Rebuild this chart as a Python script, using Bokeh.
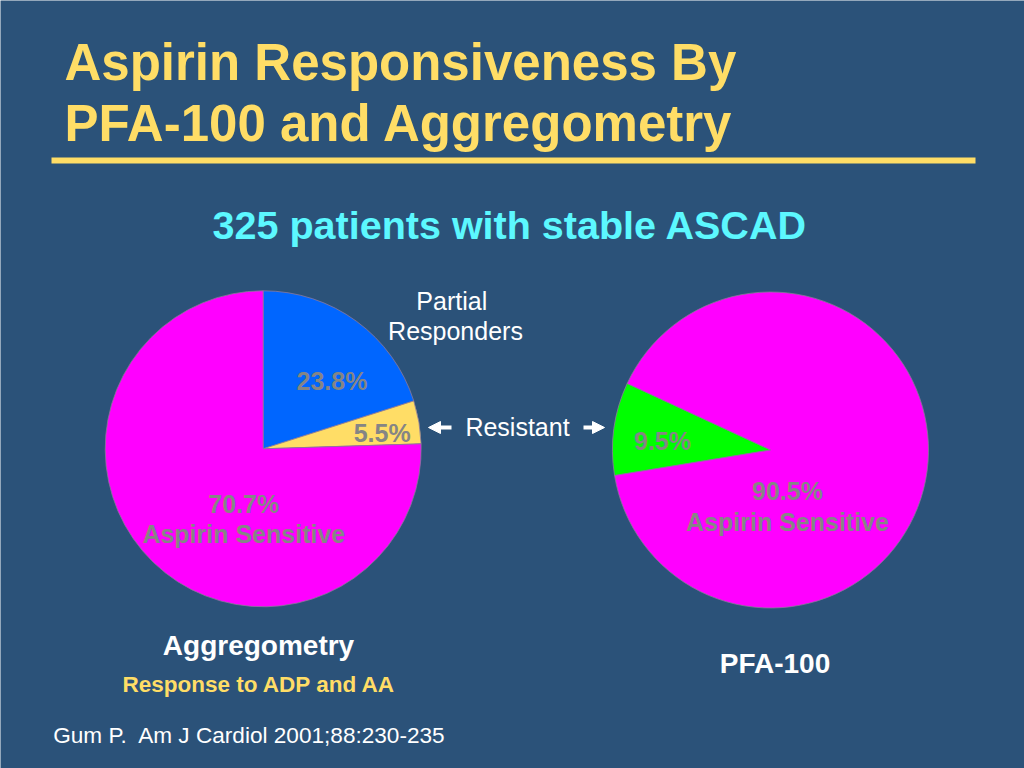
from math import radians
from bokeh.plotting import figure
from bokeh.models import Arrow, NormalHead
from bokeh.core.properties import value
from bokeh.embed import file_html
from bokeh.resources import INLINE

# ---------------- data ----------------
title_lines = ["Aspirin Responsiveness By", "PFA-100 and Aggregometry"]
subtitle = "325 patients with stable ASCAD"

# Aggregometry pie (slice shares as drawn, clockwise from 12 o'clock)
agg_categories = ["Partial Responders", "Resistant", "Aspirin Sensitive"]
agg_share = [20.1, 4.4, 75.5]
agg_labels = ["23.8%", "5.5%", "70.7%\nAspirin Sensitive"]
agg_colors = ["#0066FF", "#FFDD66", "#FF00FF"]

# PFA-100 pie
pfa_categories = ["Resistant", "Aspirin Sensitive"]
pfa_share = [9.5, 90.5]
pfa_labels = ["9.5%", "90.5%\nAspirin Sensitive"]
pfa_colors = ["#00FF00", "#FF00FF"]

annot_partial = ["Partial", "Responders"]
annot_resistant = "Resistant"
agg_name = "Aggregometry"
agg_sub = "Response to ADP and AA"
pfa_name = "PFA-100"
citation = "Gum P.\u00a0 Am J Cardiol 2001;88:230-235"

BG = "#2B5279"
YELLOW = "#FFDD66"
CYAN = "#5CF8FF"
GRAY = "#858585"
FONT = value("Liberation Sans")

W, H = 1024, 768
# page-pixel coordinates: x = page x, y = -page y
p = figure(width=W, height=H, x_range=(0, W), y_range=(-H, 0),
           output_backend="svg", toolbar_location=None,
           x_axis_type=None, y_axis_type=None, min_border=0)
p.background_fill_color = BG
p.border_fill_color = BG
p.outline_line_color = None
p.xgrid.visible = False
p.ygrid.visible = False


def txt(x, y, s, size, color, style="normal", align="center"):
    # y is the desired baseline in page pixels; compensate renderer offset
    px = float(size.replace("px", ""))
    yy = y - 0.37 * px
    p.text(x=[x], y=[-yy], text=[s], text_font=FONT, text_font_size=size,
           text_font_style=style, text_color=color, text_align=align,
           text_baseline="alphabetic")


# title
txt(64, 81, title_lines[0], "51px", YELLOW, "bold", "left")
txt(64, 141.7, title_lines[1], "51px", YELLOW, "bold", "left")
p.line(x=[51, 975], y=[-160, -160], line_color=YELLOW, line_width=6)

# subtitle
txt(509.5, 239, subtitle, "39.5px", CYAN, "bold")

# pie 1
cx1, cy1, r1 = 262.7, 448.3, 158
start = 90.0
s1, e1 = [], []
for sh in agg_share:
    end_ = start - sh * 3.6
    s1.append(radians(end_))
    e1.append(radians(start))
    start = end_
p.wedge(x=cx1, y=-cy1, radius=r1, start_angle=s1, end_angle=e1,
        fill_color=agg_colors, line_color="#8A7A9A", line_width=0.8,
        direction="anticlock")

# pie 2
cx2, cy2, r2 = 770, 449.5, 158
start = 155.1
s2, e2 = [], []
for sh in pfa_share:
    end_ = start + sh * 3.6
    s2.append(radians(start))
    e2.append(radians(end_))
    start = end_
p.wedge(x=cx2, y=-cy2, radius=r2, start_angle=s2, end_angle=e2,
        fill_color=pfa_colors, line_color="#8A7A9A", line_width=0.8,
        direction="anticlock")

# slice labels
lab1 = agg_labels[2].split("\n")
lab2 = pfa_labels[1].split("\n")
txt(331.5, 389.3, agg_labels[0], "25px", GRAY, "bold")
txt(381.7, 442, agg_labels[1], "25px", GRAY, "bold")
txt(243.3, 512.3, lab1[0], "25px", GRAY, "bold")
txt(243.3, 542.3, lab1[1], "25px", GRAY, "bold")
txt(662, 449.3, pfa_labels[0], "25px", GRAY, "bold")
txt(787, 500, lab2[0], "25px", GRAY, "bold")
txt(787, 530.7, lab2[1], "25px", GRAY, "bold")

# annotations
txt(451.3, 309.3, annot_partial[0], "25px", "white")
txt(455, 339.3, annot_partial[1], "25px", "white")
txt(517, 435.7, annot_resistant, "25px", "white")
for xs, xe in [(451, 428), (583, 604)]:
    p.add_layout(Arrow(x_start=xs, y_start=-427, x_end=xe, y_end=-427,
                       line_color="white", line_width=4,
                       end=NormalHead(size=12, fill_color="white",
                                      line_color="white")))

# pie names
txt(258, 655.7, agg_name, "28px", "white", "bold")
txt(258.8, 692.7, agg_sub, "22.5px", YELLOW, "bold")
txt(774.5, 673.3, pfa_name, "28px", "white", "bold")

# citation
txt(52.7, 743.3, citation, "22.6px", "white", "normal", "left")

open("out.html", "w").write(file_html(p, INLINE))
